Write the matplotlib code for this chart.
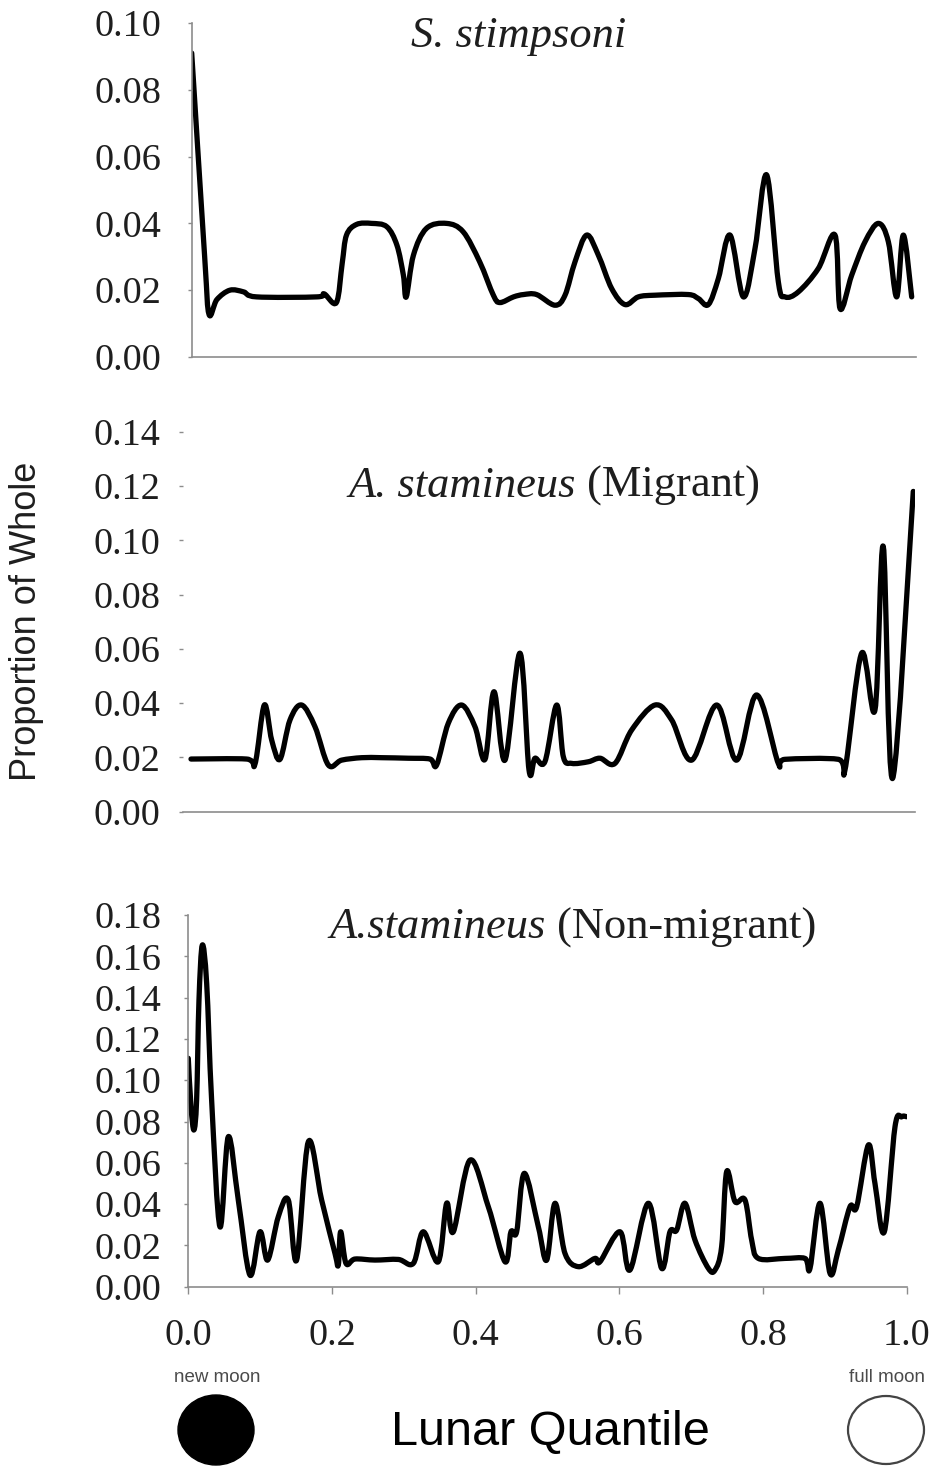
import matplotlib.pyplot as plt
import numpy as np
from matplotlib.path import Path
from matplotlib.patches import PathPatch, Ellipse

# S. stimpsoni
stim_x = [0.0, 0.018, 0.024, 0.035, 0.053, 0.072, 0.090, 0.174, 0.184, 0.201, 0.209, 0.215,
          0.229, 0.250, 0.271, 0.285, 0.294, 0.298, 0.308, 0.326, 0.354, 0.377, 0.400,
          0.419, 0.428, 0.447, 0.461, 0.479, 0.5046, 0.5185, 0.5324, 0.5486, 0.5648,
          0.5833, 0.6018, 0.6204, 0.6435, 0.6898, 0.7037, 0.7176, 0.7315, 0.7477, 0.7662,
          0.7824, 0.7986, 0.8148, 0.8241, 0.8426, 0.8703, 0.8935, 0.9005, 0.9167, 0.9352,
          0.9537, 0.9676, 0.9792, 0.9884, 1.0]
stim_y = [0.091, 0.030, 0.0128, 0.0172, 0.020, 0.0195, 0.018, 0.018, 0.0189, 0.0163, 0.028,
          0.0365, 0.0397, 0.040, 0.039, 0.0335, 0.0245, 0.018, 0.0305, 0.0385, 0.040, 0.0375,
          0.0285, 0.0185, 0.0163, 0.018, 0.0187, 0.0187, 0.0155, 0.0185, 0.0285, 0.0365,
          0.0305, 0.0205, 0.0157, 0.018, 0.0185, 0.0187, 0.0175, 0.0157, 0.0235, 0.0365,
          0.018, 0.0325, 0.0545, 0.0225, 0.018, 0.0195, 0.0265, 0.0365, 0.0145, 0.0245,
          0.0345, 0.040, 0.0345, 0.018, 0.0365, 0.018]

# A. stamineus, migrant
mig_x = [0.0, 0.0772, 0.0888, 0.1017, 0.1119, 0.1234, 0.1373, 0.1535, 0.172, 0.1905,
         0.209, 0.2367, 0.2645, 0.3014, 0.3315, 0.3407, 0.3569, 0.3754, 0.3939, 0.4078,
         0.4203, 0.4355, 0.4563, 0.4688, 0.4771, 0.491, 0.5072, 0.5164, 0.528, 0.5511,
         0.5673, 0.5881, 0.6112, 0.6436, 0.6667, 0.6944, 0.7291, 0.7568, 0.7846, 0.8146,
         0.8239, 0.8978, 0.9071, 0.9302, 0.9487, 0.9602, 0.9732, 1.0018]
mig_y = [0.0194, 0.0194, 0.0176, 0.0393, 0.0264, 0.0193, 0.0338, 0.0393, 0.0313, 0.0172,
         0.0190, 0.0199, 0.0199, 0.0197, 0.0194, 0.0172, 0.0326, 0.0393, 0.0313, 0.0193,
         0.0442, 0.0190, 0.0584, 0.0154, 0.0197, 0.0185, 0.0393, 0.0203, 0.0178, 0.0184,
         0.0197, 0.0178, 0.0301, 0.0393, 0.0338, 0.019, 0.0393, 0.019, 0.043, 0.0178,
         0.0193, 0.0193, 0.0154, 0.0584, 0.0375, 0.0977, 0.0123, 0.118]

# A. stamineus, non-migrant
non_x = [0.0, 0.0038, 0.0079, 0.0116, 0.0149, 0.0195, 0.0256, 0.0325, 0.0441, 0.0557,
         0.0696, 0.0859, 0.0998, 0.1105, 0.1253, 0.1392, 0.1508, 0.1671, 0.1856, 0.2042,
         0.2088, 0.2121, 0.2195, 0.232, 0.2598, 0.2923, 0.3132, 0.3271, 0.348, 0.3596,
         0.3689, 0.3921, 0.4176, 0.4408, 0.4491, 0.457, 0.4677, 0.4872, 0.4988, 0.5104,
         0.5243, 0.5428, 0.566, 0.573, 0.6008, 0.6147, 0.6403, 0.6588, 0.6704, 0.6797,
         0.6913, 0.7052, 0.7238, 0.7331, 0.7423, 0.7493, 0.7609, 0.7748, 0.7841, 0.7934,
         0.8305, 0.8583, 0.8653, 0.8792, 0.8931, 0.9047, 0.9209, 0.9302, 0.9465, 0.9557,
         0.9687, 0.9836, 0.9929, 0.9998]
non_y = [0.1106, 0.0872, 0.0759, 0.0904, 0.1388, 0.1654, 0.1469, 0.0904, 0.029, 0.0726,
         0.042, 0.0056, 0.0266, 0.0129, 0.0339, 0.042, 0.0129, 0.0702, 0.042, 0.0161,
         0.0105, 0.0266, 0.0113, 0.0134, 0.0129, 0.0132, 0.0113, 0.0266, 0.0121, 0.0404,
         0.0266, 0.0613, 0.0387, 0.0121, 0.0266, 0.0266, 0.0549, 0.029, 0.0129, 0.0404,
         0.0161, 0.0097, 0.0137, 0.0121, 0.0266, 0.0081, 0.0404, 0.0089, 0.0266, 0.0274,
         0.0404, 0.0226, 0.0089, 0.0081, 0.0194, 0.0557, 0.0412, 0.042, 0.0226, 0.0137,
         0.0137, 0.0137, 0.0089, 0.0404, 0.0065, 0.0178, 0.0387, 0.0387, 0.0686, 0.05,
         0.0266, 0.0775, 0.0823, 0.0823]

x_ticks = [0.0, 0.2, 0.4, 0.6, 0.8, 1.0]

W, H = 933, 1466
fig = plt.figure(figsize=(W / 100, H / 100), dpi=100)
GREY = '#8c8c8c'
TXT = '#1e1e1e'
SERIF = 'Liberation Serif'
SANS = 'Liberation Sans'


def px_axes(left, right, bottom, top):
    return fig.add_axes([left / W, 1 - bottom / H, (right - left) / W, (bottom - top) / H])


def smooth_line(ax, x, y):
    # Excel-style smoothed line: Catmull-Rom pieces as cubic Bezier curves
    p = np.column_stack([x, y])
    ext = np.vstack([p[0], p, p[-1]])
    verts, codes = [p[0]], [Path.MOVETO]
    for i in range(len(p) - 1):
        p0, p1, p2, p3 = ext[i], ext[i + 1], ext[i + 2], ext[i + 3]
        verts += [p1 + (p2 - p0) / 6, p2 - (p3 - p1) / 6, p2]
        codes += [Path.CURVE4] * 3
    ax.add_patch(PathPatch(Path(verts, codes), fill=False, lw=3.8, color='black',
                           capstyle='round', joinstyle='round'))


def style(ax, yticks, pad, left_spine=True, xticks=None):
    for s in ['top', 'right']:
        ax.spines[s].set_visible(False)
    ax.spines['left'].set_visible(left_spine)
    for s in ['left', 'bottom']:
        ax.spines[s].set_color(GREY)
        ax.spines[s].set_linewidth(1.2)
    ax.set_yticks(yticks)
    ax.set_yticklabels(['%.2f' % v for v in yticks], family=SERIF, fontsize=27.5, color=TXT)
    ax.tick_params(axis='y', length=3, width=1, color=GREY, pad=pad)
    if xticks is None:
        ax.set_xticks([])
    else:
        ax.set_xticks(xticks)
        ax.set_xticklabels(['%.1f' % v for v in xticks], family=SERIF, fontsize=27.5, color=TXT)
        ax.tick_params(axis='x', length=5, width=1, color=GREY, pad=18)


ax1 = px_axes(191.7, 916, 357, 23)
ax1.set_xlim(0, 1.006)
ax1.set_ylim(0, 0.10)
smooth_line(ax1, stim_x, stim_y)
style(ax1, np.arange(0, 0.101, 0.02), 19)

ax2 = px_axes(183, 915, 811.7, 431.7)
ax2.set_xlim(-0.0111, 1.0042)
ax2.set_ylim(0, 0.14)
smooth_line(ax2, mig_x, mig_y)
style(ax2, np.arange(0, 0.141, 0.02), 13, left_spine=False)

ax3 = px_axes(187.7, 906.8, 1286.7, 915)
ax3.set_xlim(-0.0008, 1.0)
ax3.set_ylim(0, 0.18)
smooth_line(ax3, non_x, non_y)
style(ax3, np.arange(0, 0.181, 0.02), 16, xticks=x_ticks)


def ftext(x, y, s, **kw):
    return fig.text(x / W, 1 - y / H, s, **kw)


def species_title(xc, y, italic, regular='', size=32):
    # italic species name followed by a plain-text note, centred as one line
    r = fig.canvas.get_renderer()
    t1 = ftext(0, y, italic, style='italic', family=SERIF, fontsize=size, va='baseline', color=TXT)
    w1 = t1.get_window_extent(r).width
    w2, gap = 0, 0
    if regular:
        t2 = ftext(0, y, regular, family=SERIF, fontsize=size, va='baseline', color=TXT)
        w2 = t2.get_window_extent(r).width
        gap = 0.25 * size * 100 / 72
    x0 = xc - (w1 + gap + w2) / 2
    t1.set_x(x0 / W)
    if regular:
        t2.set_x((x0 + w1 + gap) / W)


species_title(519, 46.7, 'S. stimpsoni')
species_title(554, 496.7, 'A. stamineus', '(Migrant)')
species_title(573, 938.3, 'A.stamineus', '(Non-migrant)')

ftext(27, 621, 'Proportion of Whole', rotation=90, ha='center', va='center',
      fontsize=26, family=SANS, color=TXT)
ftext(550, 1445, 'Lunar Quantile', ha='center', va='baseline', fontsize=35,
      family=SANS, color='black')

ftext(217, 1382, 'new moon', ha='center', va='baseline', fontsize=13.5,
      family=SANS, color='#4a4a4a')
ftext(887, 1382, 'full moon', ha='center', va='baseline', fontsize=13.5,
      family=SANS, color='#4a4a4a')

fig.add_artist(Ellipse((216 / W, 1 - 1430 / H), 76 / W, 70 / H, transform=fig.transFigure,
                       facecolor='black', edgecolor='black'))
fig.add_artist(Ellipse((886 / W, 1 - 1430 / H), 76 / W, 68 / H, transform=fig.transFigure,
                       facecolor='white', edgecolor='#444444', lw=1.6))

fig.savefig('out.png', dpi=100)
